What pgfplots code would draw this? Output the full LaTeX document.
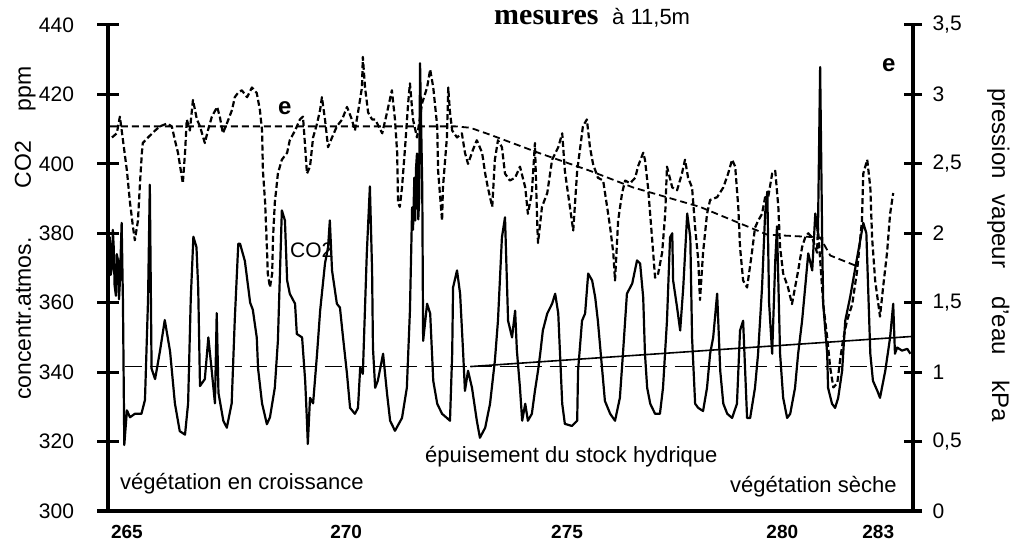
\documentclass[border=0pt]{standalone}
\usepackage{fontspec}
\setmainfont{Liberation Sans}
\newfontfamily\titleserif{Liberation Serif}
\usepackage{pgfplots}
\pgfplotsset{compat=1.18}
\newcommand{\fs}[1]{\fontsize{#1}{#1}\selectfont}
\begin{document}
\begin{tikzpicture}[x=1pt,y=1pt]
\useasboundingbox (0,0) rectangle (1022,543);
\begin{axis}[
 at={(108pt,32pt)}, anchor=south west, scale only axis, width=805pt, height=486pt,
 xmin=264.57, xmax=282.86, ymin=300, ymax=440,
 axis x line*=bottom, axis y line*=left,
 x axis line style={line width=3pt, shorten <=-11pt},
 y axis line style={line width=4pt},
 xtick={265,269.98,275,279.89,282.07}, xticklabels={265,270,275,280,283},
 ytick={300,320,340,360,380,400,420,440},
 tick align=center, major tick length=21pt,
 tick style={line width=3pt, black},
 xtick style={draw=none},
 /pgf/number format/assume math mode=true,
 yticklabel style={font=\fs{21pt}, anchor=east, xshift=-20pt},
 xticklabel style={font=\bfseries\fs{19pt}},
 clip=false,
]
\addplot[black, line width=2.2pt, line join=round] coordinates {
(264.61,379)(264.63,368)(264.66,370)(264.68,381)(264.70,376)(264.72,365)(264.75,362)(264.77,374)(264.80,372)(264.82,361)(264.84,366)(264.88,383)(264.91,360)(264.94,319)(265.00,329)(265.07,327)(265.18,328)(265.33,328)(265.41,332)(265.48,361)(265.52,394)(265.56,341)(265.64,338)(265.75,346)(265.86,355)(265.98,346)(266.09,331)(266.20,323)(266.32,322)(266.39,331)(266.45,361)(266.51,379)(266.58,376)(266.62,364)(266.66,336)(266.77,338)(266.85,350)(266.93,340)(267.00,331)(267.04,357)(267.08,334)(267.19,326)(267.27,324)(267.38,331)(267.45,355)(267.53,377)
(267.57,377)(267.68,372)(267.80,360)(267.86,358)(267.95,350)(267.98,341)(268.07,331)(268.18,325)(268.25,327)(268.36,335.5)(268.43,349)(268.52,386.6)(268.59,383.7)(268.64,366.4)(268.70,362.6)(268.82,359.7)(268.86,351)(268.98,350)(269.05,337.5)(269.09,326)(269.11,319.3)(269.16,332.6)(269.23,331)(269.32,345.3)(269.39,357.7)(269.50,371.3)(269.57,376)(269.61,383.7)(269.66,369.3)(269.77,359.7)(269.84,358.6)(269.91,350)(270.00,339.5)(270.07,329.7)(270.18,328)(270.25,329.7)(270.30,341.3)(270.36,339.5)(270.45,374.2)(270.52,393.5)
(270.57,369.3)(270.59,347)(270.64,335.5)(270.70,337.5)(270.82,345.3)(270.91,333.8)(270.98,326)(271.09,323.1)(271.25,326.8)(271.36,335.5)(271.43,357.7)(271.48,387.5)(271.50,381)(271.53,396)(271.55,383.7)(271.57,399)(271.59,403)(271.62,384)(271.64,390)(271.66,429)(271.71,393.2)(271.73,349)(271.82,359.7)(271.89,356.9)(271.96,337.5)(272.05,330.9)(272.16,328)(272.27,326.8)(272.34,326)(272.39,345.3)(272.41,364.4)(272.50,369.3)(272.57,362.6)(272.64,345.3)(272.68,334.6)(272.75,340.4)(272.84,335.5)(272.95,326)(273.02,321.1)(273.14,324)(273.25,330.9)(273.36,343.3)(273.43,354.8)(273.52,378.8)(273.59,384.6)
(273.66,354.8)(273.75,350)(273.82,357.7)(273.86,346.2)(273.93,335.5)(273.98,326)(274.05,330.9)(274.11,326)(274.20,328)(274.27,334.6)(274.34,340.4)(274.39,345.3)(274.45,352)(274.55,356.9)(274.66,359.7)(274.73,362.6)(274.80,356.9)(274.84,345.3)(274.89,330.9)(274.95,325.1)(275.11,324.5)(275.23,326)(275.25,340.4)(275.34,354.8)(275.41,356.9)(275.48,368.4)(275.57,366.4)(275.64,361.5)(275.70,354.8)(275.80,340.4)(275.86,331.7)(275.98,328)(276.09,326)(276.20,332.6)(276.27,345.3)(276.36,362.6)(276.48,365.5)(276.59,372.2)
(276.66,371.3)(276.73,361.5)(276.77,345.3)(276.82,335.5)(276.89,330.9)(277.00,328)(277.11,328)(277.18,335.5)(277.27,354.8)(277.34,378.8)(277.39,380)(277.41,366.4)(277.50,358.6)(277.57,352)(277.64,364.4)(277.73,385.7)(277.80,378.8)(277.84,350)(277.91,330.9)(277.98,329.7)(278.09,328.8)(278.18,335.5)(278.25,345.3)(278.32,350)(278.41,362.6)(278.48,340.4)(278.55,330.9)(278.64,328)(278.75,326.8)(278.86,330.9)(278.93,352)(279.00,354.8)(279.09,326.8)(279.16,326.8)(279.27,335.5)(279.34,345.3)(279.43,364.4)(279.50,385.7)(279.55,392)(279.59,360)(279.66,345.3)(279.73,372)(279.77,382)
(279.84,345.3)(279.91,332.6)(280.00,326.8)(280.07,328)(280.18,335.5)(280.25,345.3)(280.34,354.8)(280.41,364.4)(280.48,374.2)(280.57,369.3)(280.64,385.7)(280.70,380)(280.75,427.9)(280.80,374.2)(280.82,359.7)(280.91,345.3)(280.93,335.5)(281.02,330.9)(281.09,329.7)(281.16,332.6)(281.25,340.4)(281.32,354.8)(281.43,361.5)(281.55,370.1)(281.66,377.9)(281.73,383)(281.80,380)(281.89,345.3)(281.95,337.5)(282.05,334.6)(282.11,332.6)(282.23,340.4)(282.34,350)(282.41,359.7)(282.45,345.3)(282.50,347.1)(282.61,346.2)(282.73,346.7)(282.80,345.3)
};
\addplot[black, line width=1.6pt, dash pattern=on 17pt off 8pt] coordinates {(264.95,341.6)(282.75,341.6)};
\addplot[black, line width=1.6pt] coordinates {(272.80,341.6)(282.86,350.3)};
\end{axis}
\begin{axis}[
 at={(108pt,32pt)}, anchor=south west, scale only axis, width=805pt, height=486pt,
 xmin=264.57, xmax=282.86, ymin=0, ymax=3.5,
 axis x line=none, axis y line*=right,
 y axis line style={line width=4pt},
 xtick=\empty,
 ytick={0,0.5,1,1.5,2,2.5,3,3.5},
 tick align=center, major tick length=18pt,
 tick style={line width=3pt, black},
 /pgf/number format/assume math mode=true,
 /pgf/number format/use comma,
 yticklabel style={font=\fs{21pt}, anchor=west, xshift=7pt},
 clip=false,
]
\addplot[black, line width=2.2pt, dash pattern=on 6pt off 3pt, line join=round] coordinates {
(264.66,2.69)(264.77,2.72)(264.84,2.84)(264.91,2.67)(265.00,2.45)(265.07,2.22)(265.14,2.04)(265.18,1.95)(265.25,2.09)(265.30,2.38)(265.34,2.58)(265.36,2.65)(265.48,2.69)(265.64,2.74)(265.75,2.77)(265.91,2.79)(266.02,2.77)(266.09,2.67)(266.16,2.58)(266.25,2.40)(266.27,2.36)(266.32,2.58)(266.36,2.82)(266.43,2.74)(266.50,2.96)(266.59,2.82)(266.66,2.77)(266.77,2.65)(266.84,2.74)(266.93,2.84)(267.05,2.91)(267.11,2.84)(267.18,2.72)(267.27,2.79)(267.39,2.89)(267.45,2.98)(267.52,3.01)
(267.61,3.03)(267.73,2.98)(267.84,3.05)(267.95,3.01)(268.02,2.89)(268.07,2.74)(268.09,2.45)(268.14,2.22)(268.18,1.90)(268.20,1.71)(268.25,1.61)(268.30,1.71)(268.32,1.97)(268.36,2.22)(268.43,2.43)(268.52,2.53)(268.64,2.58)(268.70,2.67)(268.82,2.74)(268.93,2.82)(269.00,2.84)(269.05,2.62)(269.09,2.43)(269.16,2.48)(269.23,2.69)(269.32,2.79)(269.39,2.89)(269.43,2.98)(269.50,2.82)(269.57,2.62)(269.66,2.69)(269.77,2.77)(269.89,2.82)(270.00,2.91)(270.11,2.82)(270.18,2.74)(270.25,2.87)(270.34,3.05)(270.36,3.27)(270.41,3.05)(270.48,2.87)(270.57,2.82)
(270.64,2.82)(270.80,2.72)(270.91,2.87)(271.02,3.03)(271.09,2.82)(271.14,2.58)(271.16,2.22)(271.20,2.19)(271.25,2.33)(271.32,2.62)(271.39,2.94)(271.43,3.08)(271.50,2.82)(271.59,2.69)(271.71,2.94)(271.82,3.05)(271.89,3.18)(271.96,3.05)(272.05,2.77)(272.07,2.45)(272.16,2.09)(272.18,2.33)(272.27,2.69)(272.30,3.05)(272.34,2.87)(272.39,2.74)(272.50,2.69)(272.61,2.72)(272.68,2.58)(272.75,2.50)(272.86,2.60)(272.95,2.67)(273.07,2.58)(273.14,2.43)(273.20,2.33)(273.30,2.19)(273.36,2.53)(273.43,2.67)(273.52,2.62)(273.59,2.43)
(273.70,2.38)(273.82,2.40)(273.93,2.48)(274.05,2.33)(274.11,2.14)(274.20,2.29)(274.27,2.65)(274.32,2.09)(274.34,1.93)(274.43,2.19)(274.55,2.29)(274.66,2.53)(274.80,2.62)(274.89,2.72)(274.95,2.45)(275.02,2.29)(275.14,2.02)(275.23,2.45)(275.30,2.62)(275.36,2.77)(275.45,2.82)(275.52,2.62)(275.59,2.50)(275.70,2.40)(275.82,2.38)(275.91,2.19)(275.98,2.04)(276.05,1.86)(276.09,1.66)(276.16,2.09)(276.25,2.29)(276.32,2.38)(276.43,2.36)(276.55,2.40)(276.61,2.48)(276.73,2.58)
(276.77,2.53)(276.84,2.33)(276.93,1.97)(277.00,1.68)(277.07,1.71)(277.16,1.86)(277.23,2.14)(277.27,2.48)(277.39,2.33)(277.50,2.31)(277.61,2.43)(277.68,2.53)(277.75,2.40)(277.84,2.33)(277.91,2.04)(277.98,1.81)(278.02,1.52)(278.09,1.86)(278.18,2.14)(278.25,2.24)(278.41,2.26)(278.55,2.33)(278.66,2.43)(278.75,2.53)(278.82,2.48)(278.89,2.19)(278.93,1.90)(279.00,1.66)(279.09,1.61)(279.20,1.86)(279.27,2.04)(279.34,2.09)(279.43,2.14)(279.50,2.26)(279.57,2.26)(279.66,2.43)(279.73,2.45)
(279.80,2.19)(279.84,1.90)(279.91,1.71)(280.02,1.61)(280.11,1.49)(280.18,1.61)(280.25,1.73)(280.34,1.90)(280.41,1.97)(280.48,2.00)(280.57,1.97)(280.68,1.86)(280.70,2.04)(280.82,1.49)(280.91,1.25)(280.98,1.03)(281.05,0.89)(281.14,0.92)(281.20,1.08)(281.27,1.23)(281.36,1.37)(281.48,1.49)(281.59,1.73)(281.70,2.09)(281.73,2.43)(281.82,2.53)(281.89,2.33)(281.93,1.97)(282.00,1.66)(282.11,1.40)(282.18,1.61)(282.27,1.86)(282.34,2.14)(282.41,2.29)
};
\addplot[black, line width=1.8pt, dash pattern=on 7pt off 4pt] coordinates {
(264.61,2.77)(272.46,2.77)(272.80,2.76)(273.25,2.71)(274.39,2.575)(275.52,2.45)(276.50,2.33)(278.02,2.19)(279.55,1.99)(280.75,1.97)(280.98,1.84)(281.61,1.76)};
\end{axis}
% texts
\node[anchor=base west, inner sep=0] at (494,518) {\titleserif\bfseries\fs{30pt}mesures};
\node[anchor=base west, inner sep=0] at (612,518) {\fs{22pt}à 11,5m};
\node[anchor=base west, inner sep=0] at (278,428) {\bfseries\fs{24pt}e};
\node[anchor=base west, inner sep=0] at (882,471) {\bfseries\fs{24pt}e};
\node[anchor=base west, inner sep=0] at (290,285) {\fs{21pt}CO2};
\node[anchor=base west, inner sep=0] at (120,53) {\fs{22pt}végétation en croissance};
\node[anchor=base west, inner sep=0] at (425,80) {\fs{22pt}épuisement du stock hydrique};
\node[anchor=base west, inner sep=0] at (730,50) {\fs{22pt}végétation sèche};
\node[anchor=base west, inner sep=0, rotate=90] at (31,143) {\fs{23pt}concentr.atmos.\hspace{49pt}CO2\hspace{30pt}ppm};
\node[anchor=base west, inner sep=0, rotate=-90] at (992,455) {\fs{24pt}pression\hspace{16pt}vapeur\hspace{28pt}d'eau\hspace{26pt}kPa};
\end{tikzpicture}
\end{document}
